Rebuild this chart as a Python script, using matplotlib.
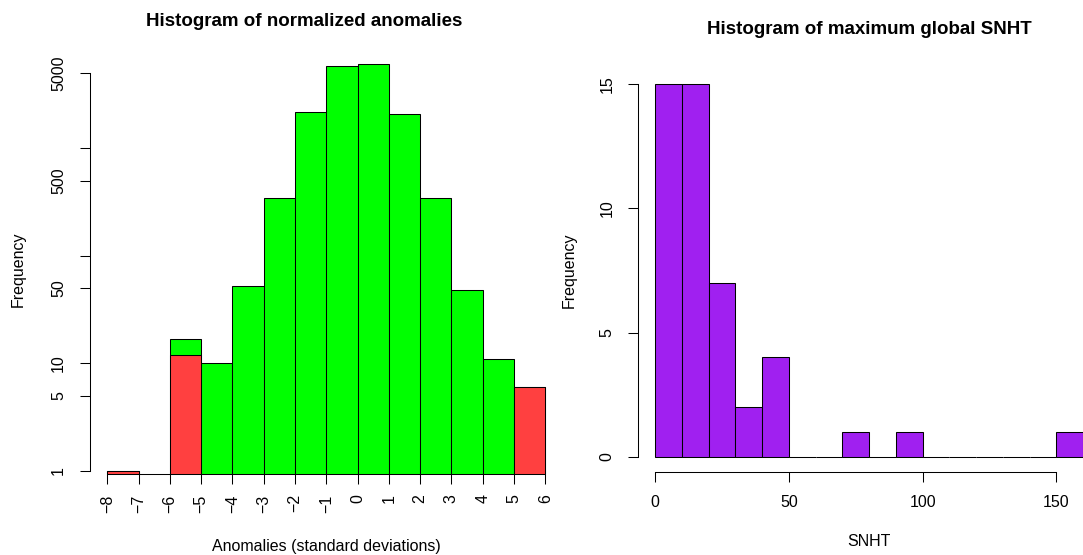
import matplotlib
matplotlib.use("Agg")
import matplotlib.pyplot as plt
import numpy as np

plt.rcParams["font.family"] = ["Liberation Sans", "DejaVu Sans"]

# left: histogram of normalized anomalies (log y)
anom_edges = [-8, -7, -6, -5, -4, -3, -2, -1, 0, 1, 2, 3, 4, 5, 6]
anom_counts = [1, 0, 17, 10, 53, 348, 2170, 5870, 6120, 2100, 348, 48, 11, 6]
flag_counts = [1, 0, 12, 0, 0, 0, 0, 0, 0, 0, 0, 0, 0, 6]
anom_yticks = [1, 5, 10, 50, 100, 500, 1000, 5000]
anom_ylabels = ["1", "5", "10", "50", "", "500", "", "5000"]

# right: histogram of maximum global SNHT
snht_edges = [0, 10, 20, 30, 40, 50, 60, 70, 80, 90, 100, 110, 120, 130, 140, 150, 160]
snht_counts = [15, 15, 7, 2, 4, 0, 0, 1, 0, 1, 0, 0, 0, 0, 0, 1]
snht_xticks = [0, 50, 100, 150]
snht_yticks = [0, 5, 10, 15]

W, H = 1083, 555


def px_box(x0, y0, x1, y1):
    return [x0 / W, 1 - y1 / H, (x1 - x0) / W, (y1 - y0) / H]


def ftext(fig, x, y, s, **kw):
    fig.text(x / W, 1 - y / H, s, ha="center", va="center", **kw)


def r_style(ax):
    for side in ("top", "right"):
        ax.spines[side].set_visible(False)
    for side in ("left", "bottom"):
        ax.spines[side].set_linewidth(0.75)
    ax.tick_params(direction="out", length=7.2, width=0.75, labelsize=11.5, pad=9.8)


fig = plt.figure(figsize=(W / 100, H / 100), dpi=100)

# ---- left panel
ax1 = fig.add_axes(px_box(89.8, 40, 562.8, 474.3))
edges = np.array(anom_edges)
ax1.set_yscale("log")
ax1.bar(edges[:-1], anom_counts, width=np.diff(edges), align="edge",
        color="#00FF00", edgecolor="black", linewidth=0.75)
ax1.bar(edges[:-1], flag_counts, width=np.diff(edges), align="edge",
        color="#FF4040", edgecolor="black", linewidth=0.75)
ax1.set_xlim(-8.56, 6.56)
ax1.set_ylim(0.926, 10233)
r_style(ax1)
ax1.spines["left"].set_bounds(1, 5000)
ax1.spines["bottom"].set_bounds(-8, 6)
ax1.set_yticks(anom_yticks)
ax1.yaxis.set_minor_locator(matplotlib.ticker.NullLocator())
ax1.set_yticklabels(anom_ylabels, rotation=90, va="center")
ax1.set_xticks(anom_edges)
ax1.set_xticklabels([str(v).replace("-", "\u2212") for v in anom_edges], rotation=90)
ax1.tick_params(axis="x", pad=7.2)

ftext(fig, 304, 22, "Histogram of normalized anomalies", fontsize=13.5, fontweight="bold")
ftext(fig, 326, 546, "Anomalies (standard deviations)", fontsize=11.5)
ftext(fig, 18, 269, "Frequency", fontsize=11.5, rotation=90)

# ---- right panel
ax2 = fig.add_axes(px_box(638.2, 69.1, 1100.1, 471.7))
edges = np.array(snht_edges)
ax2.bar(edges[:-1], snht_counts, width=np.diff(edges), align="edge",
        color="#A020F0", edgecolor="black", linewidth=0.75)
ax2.set_xlim(-6.4, 166.4)
ax2.set_ylim(-0.6, 15.6)
r_style(ax2)
ax2.spines["left"].set_bounds(0, 15)
ax2.spines["bottom"].set_bounds(0, 150)
ax2.spines["bottom"].set_position(("outward", 0))
ax2.set_xticks(snht_xticks)
ax2.set_yticks(snht_yticks)
ax2.set_yticklabels([str(v) for v in snht_yticks], rotation=90, va="center")

ftext(fig, 869, 29, "Histogram of maximum global SNHT", fontsize=13.5, fontweight="bold")
ftext(fig, 869, 542, "SNHT", fontsize=11.5)
ftext(fig, 569, 270, "Frequency", fontsize=11.5, rotation=90)

fig.savefig("out.png", dpi=100)
